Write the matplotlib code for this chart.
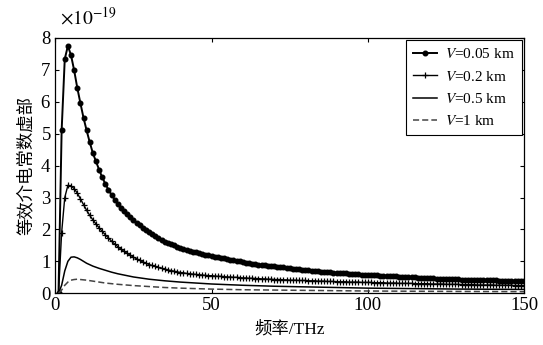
import numpy as np
import matplotlib
matplotlib.use("Agg")
import matplotlib.pyplot as plt
from matplotlib.ticker import ScalarFormatter

plt.rcParams['font.family'] = ['Liberation Serif', 'Noto Sans CJK SC']
plt.rcParams['mathtext.fontset'] = 'stix'

# frequency grid (THz) for marker series
freq_marked = list(range(1, 151))

# V = 0.05 km (units of 1e-19)
v005 = [0.0, 5.10, 7.34, 7.75, 7.46, 6.99, 6.44, 5.96, 5.50, 5.10,
        4.73, 4.39, 4.13, 3.87, 3.63, 3.43, 3.24, 3.08, 2.93, 2.80,
        2.68, 2.57, 2.47, 2.38, 2.30, 2.21, 2.13, 2.05, 1.98, 1.92,
        1.86, 1.80, 1.74, 1.68, 1.62, 1.58, 1.54, 1.50, 1.46, 1.42,
        1.39, 1.36, 1.33, 1.30, 1.28, 1.26, 1.23, 1.21, 1.19, 1.17,
        1.15, 1.13, 1.11, 1.09, 1.07, 1.05, 1.03, 1.01, 1.00, 0.98,
        0.96, 0.95, 0.93, 0.92, 0.90, 0.89, 0.88, 0.86, 0.85, 0.84,
        0.83, 0.82, 0.81, 0.80, 0.78, 0.77, 0.76, 0.75, 0.74, 0.73,
        0.72, 0.71, 0.70, 0.69, 0.68, 0.68, 0.67, 0.66, 0.65, 0.64,
        0.63, 0.63, 0.62, 0.61, 0.61, 0.60, 0.59, 0.58, 0.58, 0.57,
        0.57, 0.56, 0.56, 0.55, 0.55, 0.54, 0.54, 0.53, 0.53, 0.52,
        0.52, 0.51, 0.51, 0.50, 0.50, 0.49, 0.49, 0.48, 0.48, 0.47,
        0.47, 0.46, 0.46, 0.46, 0.45, 0.45, 0.44, 0.44, 0.44, 0.43,
        0.43, 0.43, 0.42, 0.42, 0.42, 0.41, 0.41, 0.41, 0.40, 0.40,
        0.40, 0.39, 0.39, 0.39, 0.38, 0.38, 0.38, 0.38, 0.37, 0.37]

# V = 0.2 km
v02 = [0.0, 1.90, 3.00, 3.38, 3.36, 3.28, 3.14, 2.96, 2.78, 2.60,
       2.44, 2.30, 2.17, 2.05, 1.94, 1.83, 1.73, 1.63, 1.54, 1.46,
       1.38, 1.31, 1.25, 1.19, 1.13, 1.08, 1.03, 0.98, 0.94, 0.90,
       0.87, 0.84, 0.81, 0.78, 0.76, 0.73, 0.71, 0.69, 0.67, 0.65,
       0.64, 0.62, 0.61, 0.60, 0.59, 0.58, 0.57, 0.56, 0.55, 0.55,
       0.54, 0.53, 0.53, 0.52, 0.51, 0.51, 0.50, 0.50, 0.49, 0.48,
       0.48, 0.47, 0.47, 0.46, 0.46, 0.45, 0.45, 0.44, 0.44, 0.43,
       0.43, 0.43, 0.42, 0.42, 0.41, 0.41, 0.41, 0.40, 0.40, 0.40,
       0.39, 0.39, 0.39, 0.38, 0.38, 0.38, 0.37, 0.37, 0.37, 0.36,
       0.36, 0.36, 0.36, 0.35, 0.35, 0.35, 0.35, 0.34, 0.34, 0.34,
       0.34, 0.33, 0.33, 0.33, 0.33, 0.32, 0.32, 0.32, 0.32, 0.31,
       0.31, 0.31, 0.31, 0.31, 0.30, 0.30, 0.30, 0.30, 0.30, 0.29,
       0.29, 0.29, 0.29, 0.29, 0.28, 0.28, 0.28, 0.28, 0.28, 0.27,
       0.27, 0.27, 0.27, 0.27, 0.26, 0.26, 0.26, 0.26, 0.26, 0.26,
       0.25, 0.25, 0.25, 0.25, 0.25, 0.25, 0.24, 0.24, 0.24, 0.24]

# V = 0.5 km
freq_05 = [1, 2, 3, 4, 5, 6, 7, 8, 9, 10, 12, 14, 16, 18, 20, 25, 30, 35, 40,
           45, 50, 60, 70, 80, 90, 100, 110, 120, 130, 140, 150]
v05 = [0.0, 0.25, 0.70, 1.00, 1.13, 1.14, 1.11, 1.06, 1.00, 0.94, 0.85,
       0.78, 0.72, 0.66, 0.61, 0.51, 0.44, 0.39, 0.35, 0.32, 0.29, 0.25,
       0.22, 0.20, 0.18, 0.16, 0.15, 0.14, 0.13, 0.125, 0.12]

# V = 1 km
freq_1 = [1, 2, 3, 4, 5, 6, 7, 8, 9, 10, 12, 14, 16, 18, 20, 25, 30, 35, 40,
          50, 60, 70, 80, 100, 120, 150]
v1 = [0.0, 0.10, 0.25, 0.35, 0.41, 0.43, 0.44, 0.43, 0.42, 0.41, 0.38,
      0.35, 0.32, 0.30, 0.28, 0.24, 0.21, 0.18, 0.16, 0.13, 0.11, 0.10,
      0.09, 0.07, 0.06, 0.05]

labels = ['$V$=0.05 km', '$V$=0.2 km', '$V$=0.5 km', '$V$=1 km']
scale = 1e-19

fig = plt.figure(figsize=(5.43, 3.45), dpi=100)
ax = fig.add_axes([0.102, 0.150, 0.863, 0.740])

ax.plot(freq_marked, np.array(v005) * scale, color='black', lw=1.4,
        marker='o', ms=3.3, label=labels[0])
ax.plot(freq_marked, np.array(v02) * scale, color='black', lw=1.0,
        marker='+', ms=5, mew=0.9, label=labels[1])
ax.plot(freq_05, np.array(v05) * scale, color='black', lw=1.1,
        label=labels[2])
ax.plot(freq_1, np.array(v1) * scale, color='#444444', lw=1.1,
        ls=(0, (4, 2)), label=labels[3])

ax.set_xlim(0, 150)
ax.set_ylim(0, 8e-19)
ax.set_xticks([0, 50, 100, 150])
ax.set_yticks(np.arange(0, 9) * 1e-19)

fmt = ScalarFormatter(useMathText=True)
fmt.set_powerlimits((0, 0))
ax.yaxis.set_major_formatter(fmt)
ax.yaxis.get_offset_text().set_visible(False)
ax.text(0.01, 1.04, r'$\times10^{-19}$', transform=ax.transAxes,
        fontsize=14, ha='left', va='bottom')

ax.tick_params(direction='in', top=True, right=True, labelsize=13.5,
               length=3, width=0.8, pad=3)
for s in ax.spines.values():
    s.set_linewidth(0.9)

ax.set_xlabel('频率/THz', fontsize=12.5, labelpad=5)
ax.set_ylabel('等效介电常数虚部', fontsize=12.5, labelpad=4)

leg = ax.legend(loc='upper right', fontsize=11, frameon=True, fancybox=False,
                edgecolor='black', framealpha=1, borderaxespad=0.15,
                handlelength=1.6, handletextpad=0.5, labelspacing=0.55,
                borderpad=0.45)
leg.get_frame().set_linewidth(0.8)

fig.savefig('out.png', dpi=100)
